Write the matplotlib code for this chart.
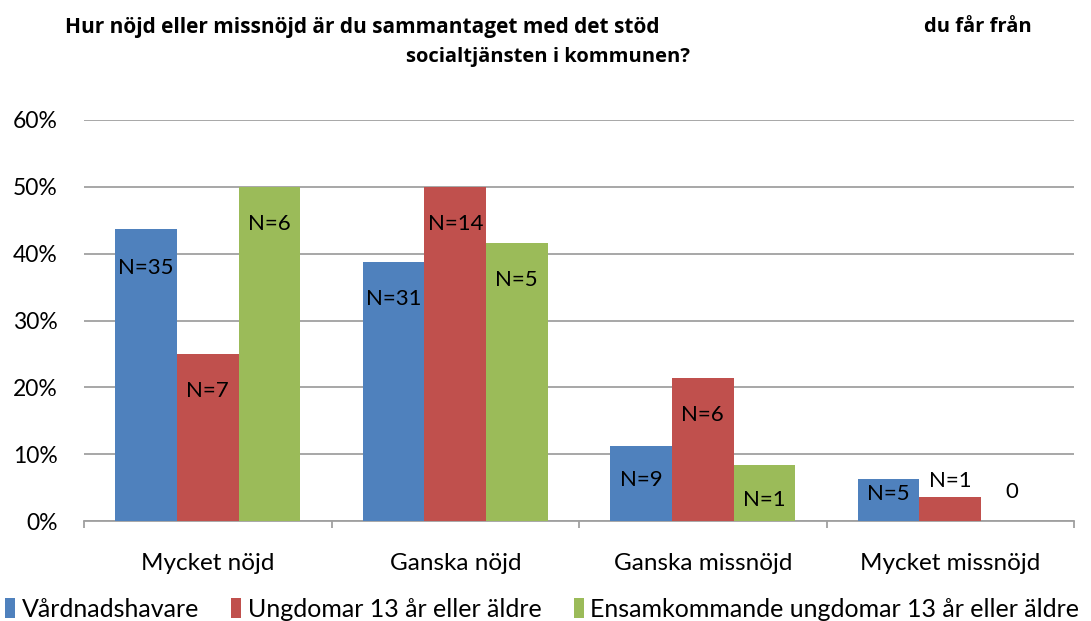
import numpy as np
import matplotlib.pyplot as plt
from matplotlib.ticker import PercentFormatter

# categories and counts per respondent group
categories = ["Mycket nöjd", "Ganska nöjd", "Ganska missnöjd", "Mycket missnöjd"]
series_names = ["Vårdnadshavare", "Ungdomar 13 år eller äldre",
                "Ensamkommande ungdomar 13 år eller äldre"]
vardnad = [35, 31, 9, 5]
ungdomar = [7, 14, 6, 1]
ensam = [6, 5, 1, 0]

colors = ["#4F81BD", "#C0504D", "#9BBB59"]
# label y-offset (pixels) relative to bar top
label_offsets = [
    [-39, -37, -34, -15],
    [-37, -37, -37, 16],
    [-37, -37, -35, 29],
]

plt.rcParams['font.family'] = ['Lato', 'DejaVu Sans']

fig = plt.figure(figsize=(10.91, 6.21), dpi=100)
ax = fig.add_axes([84 / 1091, 1 - 521 / 621, (1074 - 84) / 1091, (521 - 120) / 621])

counts = [vardnad, ungdomar, ensam]
x = np.arange(len(categories))
bw = 0.2487
for i, (vals, col) in enumerate(zip(counts, colors)):
    total = sum(vals)
    shares = [v / total for v in vals]
    pos = x + (i - 1) * bw
    ax.bar(pos, shares, width=bw, color=col, label=series_names[i], zorder=3)
    for px, s, n, off in zip(pos, shares, vals, label_offsets[i]):
        txt = f"N={n}" if n > 0 else "0"
        ax.annotate(txt, (px, s), xytext=(0, off), textcoords='offset pixels',
                    ha='center', va='center', fontsize=16, color='black', zorder=4)

ax.set_xlim(-0.5, len(categories) - 0.5)
ax.set_ylim(0, 0.6)
ax.set_yticks(np.arange(0, 0.61, 0.1))
ax.yaxis.set_major_formatter(PercentFormatter(1.0, decimals=0))
ax.grid(axis='y', color='#A0A0A0', linewidth=1.3, zorder=0)
ax.set_axisbelow(True)

for side in ['left', 'right', 'top']:
    ax.spines[side].set_visible(False)
ax.spines['bottom'].set_color('#A0A0A0')
ax.spines['bottom'].set_linewidth(1.3)

ax.set_xticks(x)
ax.set_xticklabels(categories)
ax.set_xticks(np.arange(-0.5, len(categories)), minor=True)
ax.tick_params(axis='x', which='major', length=0, pad=23, labelsize=17.5)
ax.tick_params(axis='x', which='minor', length=5, width=1.3, color='#A0A0A0')
ax.tick_params(axis='y', length=0, pad=19, labelsize=16.5)

title_kw = dict(fontweight='bold', family=['Open Sans', 'DejaVu Sans'], va='center')
fig.text(65 / 1091, 1 - 27 / 621, "Hur nöjd eller missnöjd är du sammantaget med det stöd",
         ha='left', fontsize=15, **title_kw)
fig.text(1032 / 1091, 1 - 27 / 621, "du får från", ha='right', fontsize=14.5, **title_kw)
fig.text(548 / 1091, 1 - 57 / 621, "socialtjänsten i kommunen?", ha='center',
         fontsize=14.5, **title_kw)

fig.legend(loc='lower left', bbox_to_anchor=(-0.002, -0.012), ncol=3, frameon=False,
           fontsize=18, handlelength=0.4, handleheight=0.85, handletextpad=0.25,
           columnspacing=1.3, borderaxespad=0.0, borderpad=0.3)

fig.savefig("out.png", dpi=100)
